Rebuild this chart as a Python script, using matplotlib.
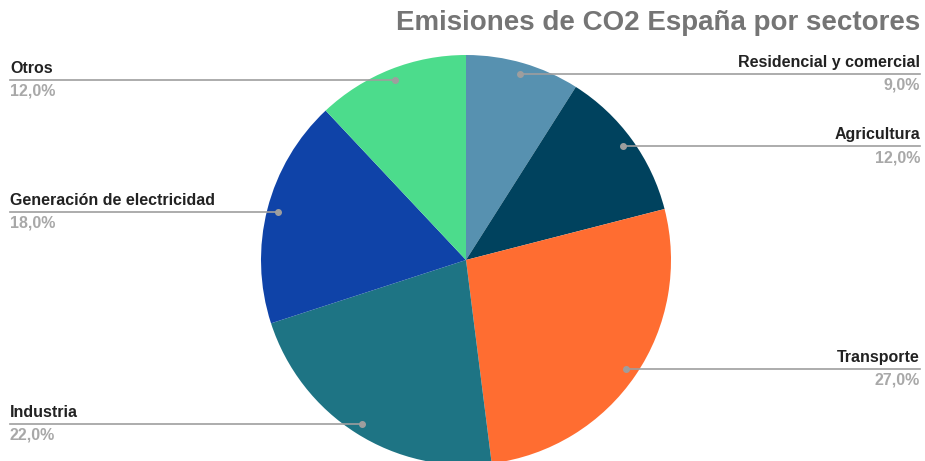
import numpy as np
import matplotlib.pyplot as plt

# data (clockwise from the top)
sectors = ["Residencial y comercial", "Agricultura", "Transporte",
           "Industria", "Generación de electricidad", "Otros"]
shares = [9.0, 12.0, 27.0, 22.0, 18.0, 12.0]
colors = ["#5791b0", "#00425e", "#ff6d31", "#1e7484", "#0f43a8", "#4cdc8c"]
title = "Emisiones de CO2 España por sectores"

W, H = 925, 461
CX, CY, R = 466, 260, 205

plt.rcParams["font.family"] = ["Liberation Sans", "DejaVu Sans"]

fig = plt.figure(figsize=(W / 100, H / 100), dpi=100)
ax = fig.add_axes([0, 0, 1, 1])

wedges, _ = ax.pie(shares, colors=colors, startangle=90, counterclock=False,
                   center=(CX, H - CY), radius=R,
                   wedgeprops=dict(linewidth=0))
ax.set_xlim(0, W)
ax.set_ylim(0, H)
ax.set_aspect("equal")
ax.axis("off")

for w, name, val in zip(wedges, sectors, shares):
    mid = np.deg2rad((w.theta1 + w.theta2) / 2)
    dx = CX + 0.945 * R * np.cos(mid)
    dy = (H - CY) + 0.945 * R * np.sin(mid)
    right = np.cos(mid) > 0
    x_end = 920 if right else 10
    ha = "right" if right else "left"
    ax.plot([dx, x_end], [dy, dy], color="#9e9e9e", lw=1.2, zorder=3)
    ax.plot(dx, dy, "o", color="#9e9e9e", ms=4, zorder=4)
    ax.text(x_end, dy + 4, name, ha=ha, va="bottom", fontsize=11.5,
            fontweight="bold", color="#222222")
    pct = f"{val:.1f}%".replace(".", ",")
    ax.text(x_end, dy - 4, pct, ha=ha, va="top", fontsize=11.5,
            fontweight="bold", color="#a8a8a8")

fig.text(920 / W, 1 - 23 / H, title, ha="right", va="center",
         fontsize=20, fontweight="bold", color="#757575")

fig.savefig("out.png", dpi=100)
